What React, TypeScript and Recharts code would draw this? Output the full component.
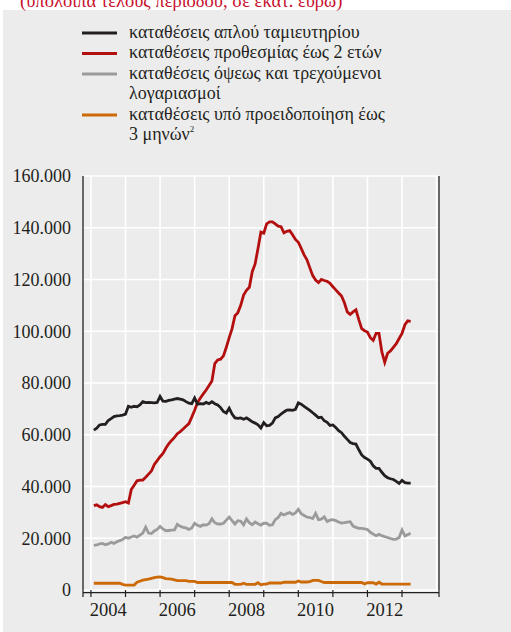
import { LineChart, Line, XAxis, YAxis, CartesianGrid, ReferenceLine } from 'recharts'

// end-of-month balances, thousand million euro, Jan 2004 .. Mar 2013
const START_YEAR = 2004

const savings = [
  61.8, 62.5, 63.8, 64.0, 64.0, 65.5, 66.2, 67.0, 67.3, 67.4,
  67.6, 68.0, 71.0, 70.6, 71.0, 70.8, 71.5, 72.8, 72.4, 72.5,
  72.4, 72.3, 72.5, 74.8, 73.0, 72.9, 73.3, 73.5, 73.8, 74.0,
  73.8, 73.5, 72.8, 72.2, 72.0, 74.2, 71.8, 72.0, 71.9, 72.5,
  72.0, 72.8, 72.0, 71.5, 70.5, 69.0, 68.4, 70.3, 68.0, 66.5,
  66.3, 66.5, 66.0, 66.5, 65.8, 65.0, 64.5, 63.8, 62.6, 64.7,
  63.5, 63.6, 64.5, 66.5, 67.0, 68.0, 68.8, 69.5, 69.6, 69.4,
  69.8, 72.3, 71.8, 71.0, 70.2, 69.4, 68.5, 67.6, 66.6, 66.8,
  65.4, 64.8, 63.6, 63.8, 62.8, 61.6, 60.8, 59.4, 58.2, 57.0,
  56.6, 56.4, 54.2, 52.2, 51.2, 50.6, 49.8, 48.0, 47.0, 47.0,
  45.5, 44.2, 43.4, 43.0, 42.7, 42.0, 41.2, 42.4, 41.5, 41.3,
  41.3,
]

const timeDeposits = [
  32.6, 32.9, 32.2, 31.9, 33.0, 32.2, 32.6, 33.1, 33.2, 33.5,
  33.8, 34.1, 33.6, 38.8, 40.5, 42.2, 42.5, 42.5, 43.6, 44.8,
  46.0, 48.5, 50.0, 51.5, 52.8, 54.8, 56.5, 57.8, 59.0, 60.4,
  61.2, 62.2, 63.3, 64.3, 66.8, 69.5, 72.5, 74.2, 75.8, 77.3,
  79.0, 80.8, 87.5, 88.9, 89.2, 90.5, 93.8, 97.5, 101.0, 106.0,
  107.2, 110.0, 114.0, 115.8, 117.0, 123.0, 126.0, 132.0, 138.3, 137.9,
  141.5, 142.3, 142.3, 141.5, 140.6, 140.4, 138.0, 138.6, 138.9, 137.3,
  135.5, 134.4, 132.0, 129.5, 127.6, 124.5, 121.5, 119.8, 118.8, 120.0,
  119.6, 119.3, 118.5, 117.2, 116.0, 114.8, 113.6, 111.0, 107.5, 106.5,
  107.5, 108.3, 104.5, 101.0, 100.2, 99.7, 97.5, 96.5, 99.2, 99.2,
  92.0, 88.0, 91.5, 92.4, 93.8, 95.2, 97.2, 99.2, 102.5, 104.0,
  103.8,
]

const sight = [
  17.2, 17.4, 17.8, 18.0, 17.5, 17.8, 18.4, 18.0, 18.6, 19.1,
  19.5, 20.4, 20.0, 20.5, 20.9, 20.4, 21.2, 22.0, 24.3, 22.0,
  21.8, 22.8, 23.4, 24.6, 23.6, 22.9, 23.0, 23.1, 23.2, 25.4,
  24.6, 24.2, 24.0, 23.4, 24.0, 25.8, 25.0, 24.6, 25.2, 25.1,
  25.6, 27.5, 26.0, 25.5, 25.5, 25.8, 27.0, 28.2, 26.8, 25.5,
  26.8, 26.6, 25.2, 27.5, 26.0, 25.2, 26.3, 25.6, 25.1, 25.8,
  25.8, 25.0, 25.2, 27.2, 28.0, 29.6, 29.0, 29.5, 29.9, 29.2,
  29.8, 31.2, 29.5, 28.8, 28.2, 28.0, 27.6, 29.6, 27.2, 27.4,
  28.3, 26.5, 27.0, 27.2, 26.8, 26.3, 25.9, 26.0, 26.2, 26.4,
  24.7, 24.2, 23.8, 23.8, 23.6, 23.4, 22.3, 21.6, 21.0, 21.5,
  21.0, 20.6, 20.3, 19.9, 19.6, 19.7, 20.3, 23.2, 20.9, 21.4,
  21.9,
]

const notice = [
  2.6, 2.6, 2.6, 2.6, 2.6, 2.6, 2.6, 2.6, 2.6, 2.6,
  2.2, 1.9, 1.9, 1.9, 1.9, 3.0, 3.4, 3.8, 4.0, 4.2,
  4.5, 4.8, 5.0, 5.1, 4.8, 4.4, 4.3, 4.2, 3.9, 3.6,
  3.6, 3.6, 3.6, 3.3, 3.3, 3.3, 2.9, 2.9, 2.9, 2.9,
  2.9, 2.9, 2.9, 2.9, 2.9, 2.9, 2.9, 2.9, 2.9, 2.2,
  2.2, 2.2, 2.6, 2.2, 2.2, 2.2, 2.2, 2.8, 2.0, 2.3,
  2.3, 2.7, 2.7, 2.7, 2.7, 2.7, 3.0, 3.0, 3.0, 3.0,
  3.0, 3.5, 3.1, 3.1, 3.1, 3.2, 3.7, 3.7, 3.7, 3.3,
  2.9, 2.9, 2.9, 2.9, 2.9, 2.9, 2.9, 2.9, 2.9, 2.9,
  2.9, 2.9, 2.9, 2.9, 2.3, 2.8, 2.8, 2.8, 2.3, 3.0,
  2.3, 2.3, 2.3, 2.3, 2.3, 2.3, 2.3, 2.3, 2.3, 2.3,
  2.3,
]

const yearTicks = [2004, 2005, 2006, 2007, 2008, 2009, 2010, 2011, 2012, 2013, 2014]
const labelYears = [2004, 2006, 2008, 2010, 2012]
const yTicks = [0, 20, 40, 60, 80, 100, 120, 140, 160]

const X_DOMAIN: [number, number] = [2003.77, 2014.07]

const series = [
  { key: 'savings', name: 'καταθέσεις απλού ταμιευτηρίου', color: '#231f20' },
  { key: 'time', name: 'καταθέσεις προθεσμίας έως 2 ετών', color: '#b40f0f' },
  { key: 'sight', name: 'καταθέσεις όψεως και τρεχούμενοι|λογαριασμοί', color: '#9b9b9b' },
  { key: 'notice', name: 'καταθέσεις υπό προειδοποίηση έως|3 μηνών', color: '#cc6a08' },
]

const data = savings.map((v, i) => ({
  t: START_YEAR + (i + 1) / 12,
  savings: v,
  time: timeDeposits[i],
  sight: sight[i],
  notice: notice[i],
}))

const FONT = 'Liberation Serif, DejaVu Serif, serif'
const INK = '#231f20'
const GRID = '#ffffff'

const fmt = (v: number) => (v === 0 ? '0' : `${v}.000`)

function Legend() {
  let row = 0
  return (
    <svg width={511} height={160} style={{ position: 'absolute', left: 0, top: 0, fontFamily: FONT }}>
      <text x={20} y={7} style={{ fontFamily: FONT }} fontSize={18.5} fill="#c8102e">
        (υπόλοιπα τέλους περιόδου, σε εκατ. ευρώ)
      </text>
      {series.map((s) => {
        const lines = s.name.split('|')
        const first = row
        row += lines.length
        const base = 37.5 + first * 20.5
        return (
          <g key={s.key}>
            <line x1={82} x2={117} y1={base - 4.5} y2={base - 4.5} stroke={s.color} strokeWidth={3} />
            {lines.map((l, j) => (
              <text key={j} x={129} y={base + j * 20.5} style={{ fontFamily: FONT }} fontSize={18} fill={INK}>
                {l}
                {s.key === 'notice' && j === lines.length - 1 && (
                  <tspan fontSize={9} dy={-8}>2</tspan>
                )}
              </text>
            ))}
          </g>
        )
      })}
    </svg>
  )
}

const tickFont = { fontSize: 18, fill: INK, style: { fontFamily: FONT } }

export default function App() {
  return (
    <div style={{ position: 'absolute', left: 0, top: 0, width: 511, height: 632, overflow: 'hidden', background: '#fff', fontFamily: FONT }}>
      <div style={{ position: 'absolute', left: 3, top: 10, width: 508, height: 622, background: '#ececec' }} />
      <Legend />
      <div style={{ position: 'absolute', left: 0, top: 0 }}>
        <LineChart width={511} height={632} data={data} margin={{ top: 176, right: 0, bottom: 4, left: 0 }} style={{ fontFamily: FONT }}>
          <CartesianGrid xAxisId="ticks" yAxisId="left" vertical={false} stroke={GRID} strokeWidth={1.6} />
          <XAxis
            xAxisId="ticks"
            type="number"
            dataKey="t"
            domain={X_DOMAIN}
            ticks={[X_DOMAIN[0], ...yearTicks, X_DOMAIN[1]]}
            tickFormatter={() => ''}
            axisLine={false}
            tickLine={{ stroke: INK, strokeWidth: 1.2 }}
            tickSize={7}
            height={8}
          />
          <XAxis
            xAxisId="years"
            type="number"
            dataKey="t"
            domain={X_DOMAIN}
            ticks={labelYears.map((y) => y + 0.5)}
            tickFormatter={(v: number) => String(Math.floor(v))}
            axisLine={false}
            tickLine={false}
            tickSize={0}
            tickMargin={5}
            height={30}
            tick={{ ...tickFont, fontSize: 18.5 }}
          />
          <YAxis
            yAxisId="left"
            domain={[0, 160]}
            ticks={yTicks}
            tickFormatter={fmt}
            width={83}
            axisLine={{ stroke: INK, strokeWidth: 1.3 }}
            tickLine={false}
            tickSize={0}
            tickMargin={12}
            tick={tickFont}
          />
          <YAxis
            yAxisId="right"
            orientation="right"
            domain={[0, 160]}
            ticks={yTicks}
            tickFormatter={fmt}
            width={72}
            axisLine={{ stroke: INK, strokeWidth: 1.3 }}
            tickLine={false}
            tickSize={0}
            tickMargin={10}
            tick={{ ...tickFont, textAnchor: 'start' }}
          />
          {yearTicks.map((yr) => (
            <ReferenceLine key={yr} xAxisId="ticks" yAxisId="left" x={yr} stroke={GRID} strokeWidth={1.6} />
          ))}
          <ReferenceLine xAxisId="ticks" yAxisId="left" y={-1} ifOverflow="visible" stroke={INK} strokeWidth={1.2} />
          {[...series].reverse().map((s) => (
            <Line
              key={s.key}
              xAxisId="ticks"
              yAxisId="left"
              type="linear"
              dataKey={s.key}
              stroke={s.color}
              strokeWidth={2.8}
              dot={false}
              isAnimationActive={false}
            />
          ))}
        </LineChart>
      </div>
    </div>
  )
}
